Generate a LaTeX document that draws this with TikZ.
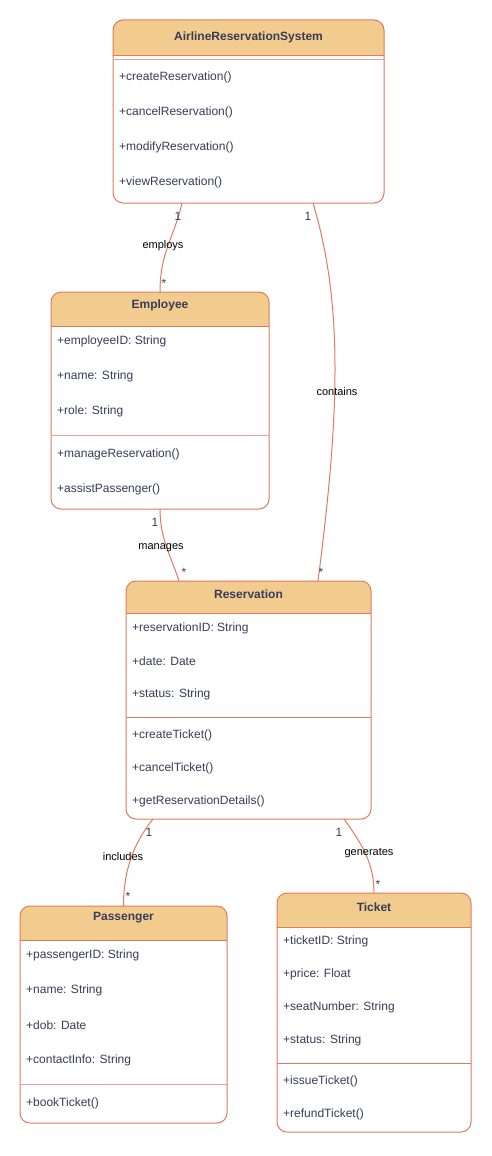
\documentclass[tikz,border=0pt]{standalone}
\usepackage{fontspec}
\setmainfont{Liberation Sans}
\usepackage{tikz}
\usetikzlibrary{arrows.meta}
\usepackage{xcolor}
\definecolor{umlline}{HTML}{E07A5F}
\definecolor{umlhead}{HTML}{F2CC8F}
\definecolor{umltext}{HTML}{393C56}

\begin{document}
\begin{tikzpicture}[x=1pt,y=-1pt,
    cls/.style={draw=umlline, line width=1pt, rounded corners=10pt, fill=white, outer sep=0pt, inner sep=0pt,
        path picture={\fill[umlhead, sharp corners] (path picture bounding box.north west) rectangle ([yshift=-#1pt]path picture bounding box.north east);}},
    title/.style={font=\fontsize{12}{14}\selectfont\bfseries, text=umltext},
    member/.style={font=\fontsize{12}{14}\selectfont, text=umltext, anchor=west, inner sep=0pt},
    sep/.style={draw=umlline, line width=0.8pt},
    assoc/.style={draw=umlline, line width=1pt},
    mult/.style={font=\fontsize{12}{14}\selectfont, text=umltext, inner sep=0pt},
    rel/.style={font=\fontsize{11}{13}\selectfont, text=black, inner sep=0pt}]
        \useasboundingbox (0,0) rectangle (492,1156);

        % classes
        \node[cls=35, minimum width=271pt, minimum height=183pt] (ars) at (248.5,111.5) {};
        \node[cls=34, minimum width=218pt, minimum height=217pt] (emp) at (160,400.5) {};
        \node[cls=32, minimum width=245pt, minimum height=238pt] (res) at (248.5,700) {};
        \node[cls=34, minimum width=207pt, minimum height=217pt] (pas) at (123.5,1014.5) {};
        \node[cls=34, minimum width=194pt, minimum height=239pt] (tic) at (374,1012.5) {};

        % header and compartment lines
        \draw[sep] (ars.west |- 0,55) -- (ars.east |- 0,55);
        \draw[sep, umlline!70] (ars.west |- 0,59) -- (ars.east |- 0,59);
        \draw[sep] (emp.west |- 0,326) -- (emp.east |- 0,326);
        \draw[sep, umlline!70] (emp.west |- 0,435) -- (emp.east |- 0,435);
        \draw[sep] (res.west |- 0,613) -- (res.east |- 0,613);
        \draw[sep] (res.west |- 0,717) -- (res.east |- 0,717);
        \draw[sep] (pas.west |- 0,940) -- (pas.east |- 0,940);
        \draw[sep, umlline!70] (pas.west |- 0,1084) -- (pas.east |- 0,1084);
        \draw[sep] (tic.west |- 0,927) -- (tic.east |- 0,927);
        \draw[sep] (tic.west |- 0,1063) -- (tic.east |- 0,1063);

        % titles
        \node[title] (arsname) at (248.5,37) {AirlineReservationSystem};
        \node[title] (empname) at (160,305) {Employee};
        \node[title] (resname) at (248.5,594) {Reservation};
        \node[title] (pasname) at (123.5,918) {Passenger};
        \node[title] (ticname) at (374,907) {Ticket};

        % AirlineReservationSystem
        \node[member] (arsop1) at (119,77) {+createReservation()};
        \node[member] (arsop2) at (119,112) {+cancelReservation()};
        \node[member] (arsop3) at (119,147) {+modifyReservation()};
        \node[member] (arsop4) at (119,182) {+viewReservation()};

        % Employee
        \node[member] (empat1) at (57,341) {+employeeID: String};
        \node[member] (empat2) at (57,376) {+name: String};
        \node[member] (empat3) at (57,411) {+role: String};
        \node[member] (empop1) at (57,454) {+manageReservation()};
        \node[member] (empop2) at (57,489) {+assistPassenger()};

        % Reservation
        \node[member] (resat1) at (132,628) {+reservationID: String};
        \node[member] (resat2) at (132,661) {+date: Date};
        \node[member] (resat3) at (132,694) {+status: String};
        \node[member] (resop1) at (132,735) {+createTicket()};
        \node[member] (resop2) at (132,768) {+cancelTicket()};
        \node[member] (resop3) at (132,801) {+getReservationDetails()};

        % Passenger
        \node[member] (pasat1) at (26,955) {+passengerID: String};
        \node[member] (pasat2) at (26,990) {+name: String};
        \node[member] (pasat3) at (26,1025) {+dob: Date};
        \node[member] (pasat4) at (26,1060) {+contactInfo: String};
        \node[member] (pasop1) at (26,1103) {+bookTicket()};

        % Ticket
        \node[member] (ticat1) at (283,941) {+ticketID: String};
        \node[member] (ticat2) at (283,974) {+price: Float};
        \node[member] (ticat3) at (283,1007) {+seatNumber: String};
        \node[member] (ticat4) at (283,1040) {+status: String};
        \node[member] (ticop1) at (283,1081) {+issueTicket()};
        \node[member] (ticop2) at (283,1114) {+refundTicket()};

        % associations
        \draw[assoc] ([xshift=-66.5pt]ars.south) .. controls +(-8,35) and +(0,-40) .. (emp.north);
        \draw[assoc] ([xshift=64.5pt]ars.south) .. controls +(30,100) and +(22,-170) .. ([xshift=69.5pt]res.north);
        \draw[assoc] (emp.south) .. controls +(0,30) and +(-8,-25) .. ([xshift=-69.5pt]res.north);
        \draw[assoc] ([xshift=-95.5pt]res.south) .. controls +(-20,25) and +(0,-35) .. (pas.north);
        \draw[assoc] ([xshift=95.5pt]res.south) .. controls +(18,25) and +(0,-30) .. (tic.north);

        % multiplicities and labels
        \node[mult] (employs1) at (178,216) {1};
        \node[mult] (employs2) at (164,283) {*};
        \node[rel] (employs) at (163,246) {employs};
        \node[mult] (contains1) at (308,216) {1};
        \node[mult] (contains2) at (321,572) {*};
        \node[rel] (contains) at (337,392) {contains};
        \node[mult] (manages1) at (155,522) {1};
        \node[mult] (manages2) at (184,572) {*};
        \node[rel] (manages) at (161,548) {manages};
        \node[mult] (includes1) at (149,832) {1};
        \node[mult] (includes2) at (128,896) {*};
        \node[rel] (includes) at (123,857) {includes};
        \node[mult] (generates1) at (339,832) {1};
        \node[mult] (generates2) at (378,884) {*};
        \node[rel] (generates) at (369,853) {generates};

    \end{tikzpicture}
\end{document}
